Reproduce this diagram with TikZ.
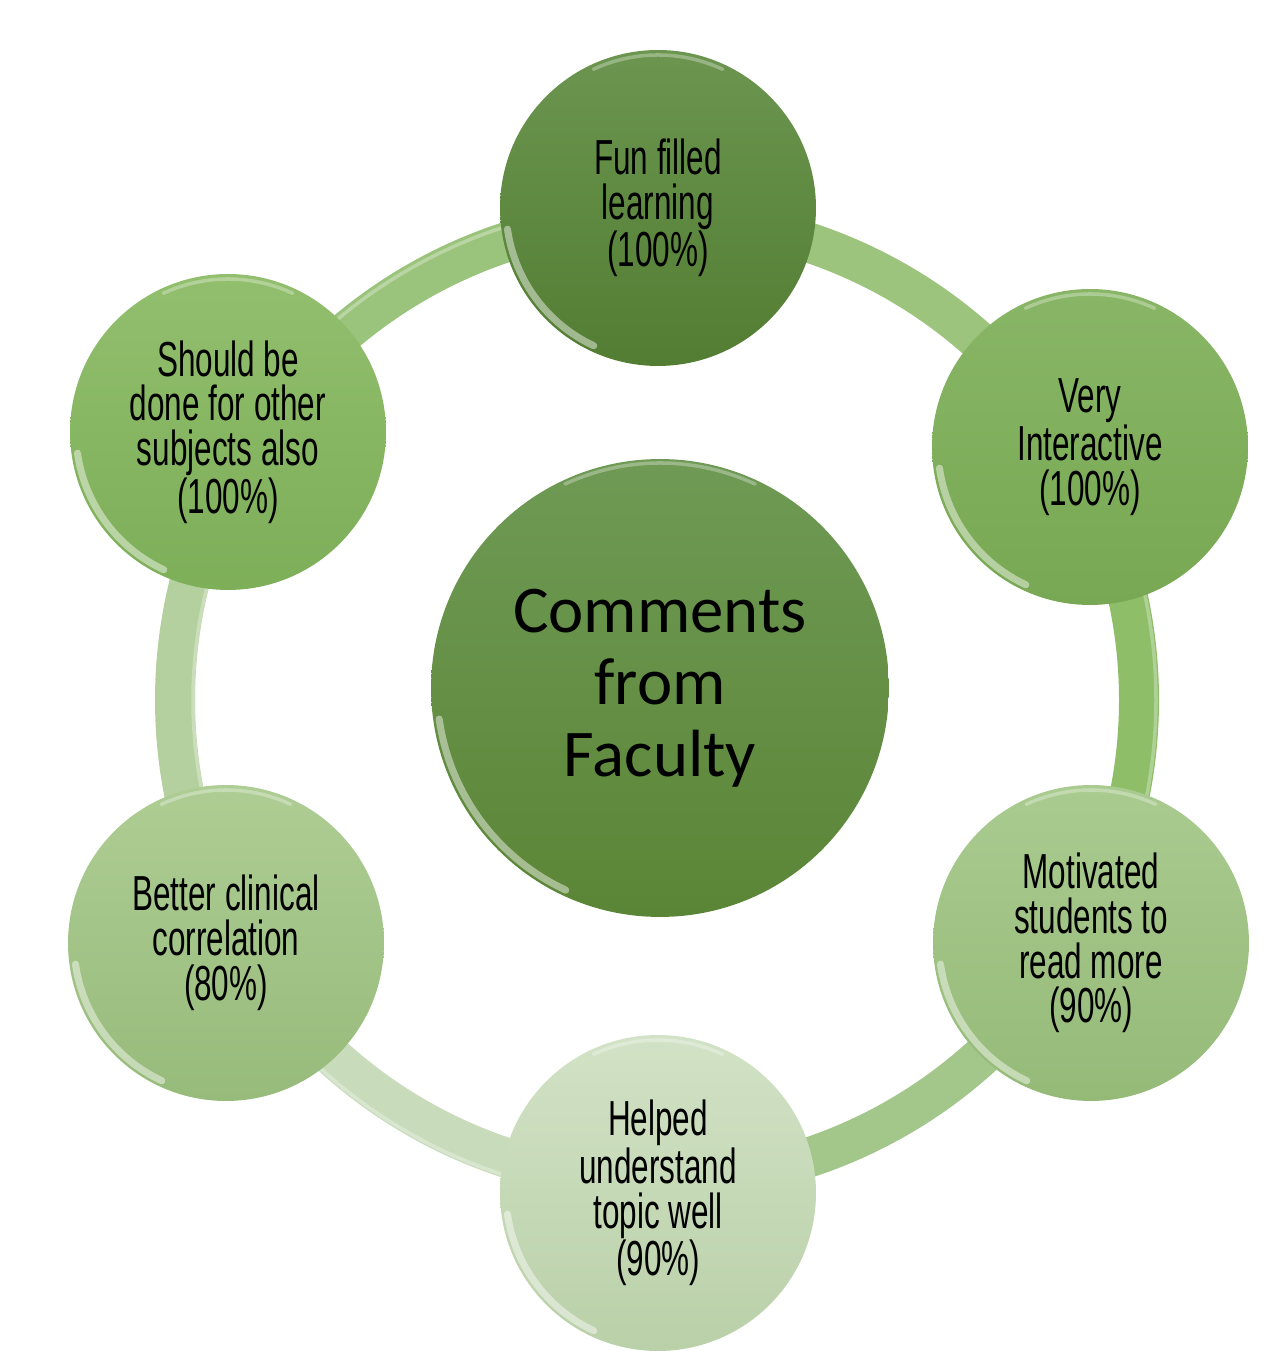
\documentclass[tikz,border=0pt]{standalone}
\usepackage{fontspec}
\setmainfont{Carlito}
\newfontfamily\condfont[FakeStretch=0.64]{Liberation Sans}
\usetikzlibrary{calc}
\definecolor{ringA}{HTML}{9CC47C}
\definecolor{ringB}{HTML}{8EBE68}
\definecolor{ringC}{HTML}{A3C78A}
\definecolor{ringD}{HTML}{C8DCBC}
\definecolor{ringE}{HTML}{B4D09E}
\definecolor{ringF}{HTML}{9AC47C}
\tikzset{
  x=0.02cm, y=0.02cm,
  ringseg/.style={line width=0.8cm},
  ball/.style={circle, inner sep=0pt, minimum size=6.32cm, align=center,
    font=\condfont\fontsize{28}{25.5}\selectfont, text=black},
  hub/.style={circle, inner sep=0pt, minimum size=9.16cm, align=center,
    font=\fontsize{38}{41}\selectfont, text=black,
    top color=hubA, bottom color=hubB},
  gloss/.style={white, opacity=0.45, line width=4pt, line cap=round},
  rim/.style={white, opacity=0.3, line width=2pt, line cap=round},
}
\definecolor{hubA}{HTML}{6F9A55}
\definecolor{hubB}{HTML}{5B8536}
\definecolor{topA}{HTML}{6C9650}
\definecolor{topB}{HTML}{527D32}
\definecolor{ruA}{HTML}{88B666}
\definecolor{ruB}{HTML}{78A853}
\definecolor{rlA}{HTML}{AACB90}
\definecolor{rlB}{HTML}{95BA78}
\definecolor{btA}{HTML}{D2E2C6}
\definecolor{btB}{HTML}{B9D0A8}
\definecolor{llA}{HTML}{AECD94}
\definecolor{llB}{HTML}{97BB7B}
\definecolor{luA}{HTML}{92BF6E}
\definecolor{luB}{HTML}{7DAE58}
\begin{document}
\begin{tikzpicture}
\useasboundingbox (0,0) rectangle (1284,1368);
\coordinate (rc) at (657,668);
% ring segments
\draw[ringseg, ringA] ([shift={(30:482)}]rc) arc[start angle=30, end angle=90, radius=482];
\draw[ringseg, ringB] ([shift={(-30:482)}]rc) arc[start angle=-30, end angle=30, radius=482];
\draw[ringseg, ringC] ([shift={(-90:482)}]rc) arc[start angle=-90, end angle=-30, radius=482];
\draw[ringseg, ringD] ([shift={(210:482)}]rc) arc[start angle=210, end angle=270, radius=482];
\draw[ringseg, ringE] ([shift={(150:482)}]rc) arc[start angle=150, end angle=210, radius=482];
\draw[ringseg, ringF] ([shift={(90:482)}]rc) arc[start angle=90, end angle=150, radius=482];
% ring highlights
\draw[rim] ([shift={(160:464)}]rc) arc[start angle=160, end angle=205, radius=464];
\draw[rim] ([shift={(215:499)}]rc) arc[start angle=215, end angle=262, radius=499];
\draw[rim] ([shift={(-20:499)}]rc) arc[start angle=-20, end angle=20, radius=499];
\draw[rim] ([shift={(100:497)}]rc) arc[start angle=100, end angle=140, radius=497];
% nodes
\node[hub] (C) at (660,680) {Comments\\from\\Faculty};
\node[ball, top color=topA, bottom color=topB] (T) at (658,1160) {Fun filled\\learning\\(100\%)};
\node[ball, top color=ruA, bottom color=ruB] (RU) at (1090,921) {Very\\Interactive\\(100\%)};
\node[ball, top color=rlA, bottom color=rlB] (RL) at (1091,425) {Motivated\\students to\\read more\\(90\%)};
\node[ball, top color=btA, bottom color=btB] (B) at (658,175) {Helped\\understand\\topic well\\(90\%)};
\node[ball, top color=llA, bottom color=llB] (LL) at (226,425) {Better clinical\\correlation\\(80\%)};
\node[ball, top color=luA, bottom color=luB] (LU) at (228,936) {Should be\\done for other\\subjects also\\(100\%)};
% gloss on balls
\foreach \n in {T,RU,RL,B,LL,LU}{
  \draw[gloss] ([shift={(188:152)}]\n.center) arc[start angle=188, end angle=245, radius=152];
  \draw[rim] ([shift={(65:153)}]\n.center) arc[start angle=65, end angle=115, radius=153];
}
\draw[gloss] ([shift={(188:223)}]C.center) arc[start angle=188, end angle=245, radius=223];
\draw[rim] ([shift={(65:225)}]C.center) arc[start angle=65, end angle=115, radius=225];
\end{tikzpicture}
\end{document}
